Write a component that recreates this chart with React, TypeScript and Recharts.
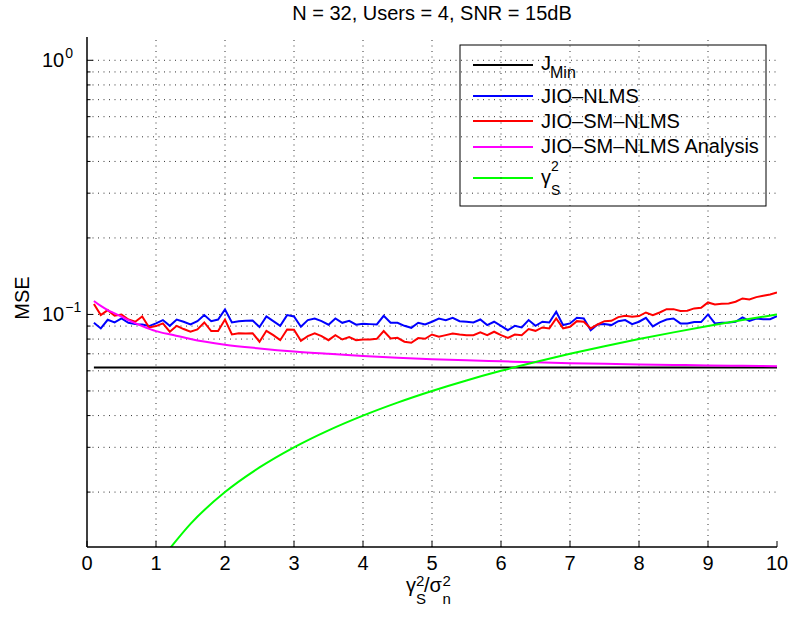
import React from 'react';
import { LineChart, Line, XAxis, YAxis, ReferenceLine, Customized } from 'recharts';

const X_VALUES = [
  0.1, 0.2, 0.3, 0.4, 0.5, 0.6, 0.7, 0.8, 0.9, 1.0,
  1.1, 1.2, 1.3, 1.4, 1.5, 1.6, 1.7, 1.8, 1.9, 2.0,
  2.1, 2.2, 2.3, 2.4, 2.5, 2.6, 2.7, 2.8, 2.9, 3.0,
  3.1, 3.2, 3.3, 3.4, 3.5, 3.6, 3.7, 3.8, 3.9, 4.0,
  4.1, 4.2, 4.3, 4.4, 4.5, 4.6, 4.7, 4.8, 4.9, 5.0,
  5.1, 5.2, 5.3, 5.4, 5.5, 5.6, 5.7, 5.8, 5.9, 6.0,
  6.1, 6.2, 6.3, 6.4, 6.5, 6.6, 6.7, 6.8, 6.9, 7.0,
  7.1, 7.2, 7.3, 7.4, 7.5, 7.6, 7.7, 7.8, 7.9, 8.0,
  8.1, 8.2, 8.3, 8.4, 8.5, 8.6, 8.7, 8.8, 8.9, 9.0,
  9.1, 9.2, 9.3, 9.4, 9.5, 9.6, 9.7, 9.8, 9.9, 10.0,
];

const JIO_NLMS = [
  0.0927, 0.0881, 0.0953, 0.0930, 0.0964, 0.0927, 0.0916, 0.0913, 0.0900, 0.0922,
  0.0950, 0.0902, 0.0955, 0.0936, 0.0913, 0.0941, 0.0994, 0.0941, 0.0955, 0.1046,
  0.0930, 0.0941, 0.0944, 0.0947, 0.0892, 0.0982, 0.0941, 0.0902, 0.0994, 0.0982,
  0.0894, 0.0950, 0.0964, 0.0941, 0.0911, 0.0964, 0.0927, 0.0944, 0.0911, 0.0919,
  0.0916, 0.0913, 0.0988, 0.0927, 0.0927, 0.0902, 0.0886, 0.0927, 0.0913, 0.0936,
  0.0964, 0.0950, 0.0970, 0.0941, 0.0936, 0.0930, 0.0955, 0.0908, 0.0936, 0.0902,
  0.0867, 0.0902, 0.0889, 0.0950, 0.0902, 0.0936, 0.0930, 0.1024, 0.0908, 0.0922,
  0.0970, 0.0964, 0.0867, 0.0913, 0.0916, 0.0908, 0.0941, 0.0950, 0.0916, 0.0936,
  0.0970, 0.0897, 0.0930, 0.0955, 0.0964, 0.0922, 0.0922, 0.0933, 0.0933, 0.1000,
  0.0922, 0.0927, 0.0930, 0.0936, 0.0973, 0.0944, 0.0964, 0.0958, 0.0958, 0.0985,
];

const JIO_SM_NLMS = [
  0.1100, 0.0994, 0.1040, 0.0988, 0.1000, 0.0955, 0.0936, 0.0982, 0.0889, 0.0900,
  0.0922, 0.0855, 0.0902, 0.0876, 0.0855, 0.0873, 0.0930, 0.0860, 0.0860, 0.0955,
  0.0834, 0.0844, 0.0842, 0.0844, 0.0781, 0.0862, 0.0829, 0.0792, 0.0873, 0.0870,
  0.0788, 0.0822, 0.0842, 0.0822, 0.0792, 0.0829, 0.0797, 0.0814, 0.0792, 0.0797,
  0.0797, 0.0802, 0.0860, 0.0804, 0.0809, 0.0781, 0.0774, 0.0807, 0.0802, 0.0834,
  0.0817, 0.0829, 0.0842, 0.0834, 0.0829, 0.0829, 0.0850, 0.0829, 0.0855, 0.0829,
  0.0809, 0.0834, 0.0829, 0.0876, 0.0862, 0.0889, 0.0881, 0.0964, 0.0881, 0.0894,
  0.0941, 0.0936, 0.0881, 0.0913, 0.0941, 0.0944, 0.0976, 0.0988, 0.0979, 0.0985,
  0.1018, 0.0994, 0.1018, 0.1049, 0.1049, 0.1031, 0.1034, 0.1056, 0.1062, 0.1115,
  0.1095, 0.1102, 0.1105, 0.1122, 0.1156, 0.1146, 0.1170, 0.1184, 0.1199, 0.1221,
];

const ANALYSIS_X = [0.1, 0.2, 0.3, 0.4, 0.5, 0.6, 0.8, 1.0, 1.25, 1.5, 2.0, 2.5, 3.0, 3.5, 4.0, 4.5, 5.0, 5.5, 6.0, 6.5, 7.0, 7.5, 8.0, 8.5, 9.0, 9.5, 10.0];
const ANALYSIS_Y = [0.113, 0.108, 0.104, 0.101, 0.098, 0.095, 0.090, 0.086, 0.083, 0.080, 0.076, 0.0735, 0.0715, 0.0700, 0.0687, 0.0676, 0.0667, 0.0660, 0.0654, 0.0648, 0.0643, 0.0639, 0.0636, 0.0633, 0.0630, 0.0628, 0.0626];

const GAMMA_X = [1.2, 1.5, 2.0, 2.5, 3.0, 3.5, 4.0, 4.5, 5.0, 5.5, 6.0, 6.5, 7.0, 7.5, 8.0, 8.5, 9.0, 9.5, 10.0];
const GAMMA_Y = [0.012, 0.015, 0.020, 0.025, 0.030, 0.035, 0.040, 0.045, 0.050, 0.055, 0.060, 0.065, 0.070, 0.075, 0.080, 0.085, 0.090, 0.095, 0.100];

const JMIN_X = [0.1, 10.0];
const JMIN_Y = [0.0618, 0.0618];

const X_TICKS = [0, 1, 2, 3, 4, 5, 6, 7, 8, 9, 10];
const X_GRID = [1, 2, 3, 4, 5, 6, 7, 8, 9];
const Y_TICKS = [0.02, 0.03, 0.04, 0.05, 0.06, 0.07, 0.08, 0.09, 0.1, 0.2, 0.3, 0.4, 0.5, 0.6, 0.7, 0.8, 0.9, 1];
const Y_MAJOR = [0.1, 1];
const Y_MAJOR_EXP = ['\u22121', '0'];
const Y_DOMAIN = [0.01216, 1.235];

const TITLE = 'N = 32, Users = 4, SNR = 15dB';
const LEGEND_NAMES = ['JIO\u2013NLMS', 'JIO\u2013SM\u2013NLMS', 'JIO\u2013SM\u2013NLMS Analysis'];

const FONT = '"Liberation Sans", Arial, Helvetica, sans-serif';

const mainRows = X_VALUES.map((x, i) => ({ x, blue: JIO_NLMS[i], red: JIO_SM_NLMS[i] }));
const analysisRows = ANALYSIS_X.map((x, i) => ({ x, y: ANALYSIS_Y[i] }));
const gammaRows = GAMMA_X.map((x, i) => ({ x, y: GAMMA_Y[i] }));
const jminRows = JMIN_X.map((x, i) => ({ x, y: JMIN_Y[i] }));

const LeftTick = (props: any) => {
  const { x, y, payload } = props;
  const idx = Y_MAJOR.indexOf(payload.value);
  const major = idx >= 0;
  const len = major ? 6 : 3.5;
  return (
    <g>
      <line x1={x} x2={x + len} y1={y} y2={y} stroke="#000" strokeWidth={1} />
      {major && (
        <text x={42} y={y + 7} fontSize={20} fontFamily={FONT} fill="#000">
          10
          <tspan dx={1} dy={-9} fontSize={14}>{Y_MAJOR_EXP[idx]}</tspan>
        </text>
      )}
    </g>
  );
};

const RightTick = (props: any) => {
  const { x, y, payload } = props;
  const major = Y_MAJOR.indexOf(payload.value) >= 0;
  const len = major ? 6 : 3.5;
  return <line x1={x} x2={x - len} y1={y} y2={y} stroke="#000" strokeWidth={1} />;
};

const BottomTick = (props: any) => {
  const { x, y, payload } = props;
  return (
    <g>
      <line x1={x} x2={x} y1={y} y2={y - 6} stroke="#000" strokeWidth={1} />
      <text x={x} y={y + 23} textAnchor="middle" fontSize={20} fontFamily={FONT} fill="#000">
        {payload.value}
      </text>
    </g>
  );
};

const TopTick = (props: any) => {
  const { x, y } = props;
  return <line x1={x} x2={x} y1={y} y2={y + 6} stroke="#000" strokeWidth={1} />;
};

const Decorations = () => {
  const lx1 = 473;
  const lx2 = 533;
  const tx = 541;
  return (
    <g fontFamily={FONT} fill="#000">
      <text x={432} y={20} textAnchor="middle" fontSize={20}>{TITLE}</text>
      <text transform="translate(29,298) rotate(-90)" textAnchor="middle" fontSize={20}>MSE</text>
      <text x={406} y={592} fontSize={20}>
        γ
        <tspan dy={-6} fontSize={15}>2</tspan>
        <tspan dx={-8.3} dy={18} fontSize={15}>S</tspan>
        <tspan dx={-2} dy={-12} fontSize={20}>/σ</tspan>
        <tspan dx={0.5} dy={-6} fontSize={15}>2</tspan>
        <tspan dx={-8.3} dy={18} fontSize={15}>n</tspan>
      </text>

      <rect x={460} y={45} width={306} height={161} fill="#fff" stroke="#000" strokeWidth={1} />
      <line x1={lx1} x2={lx2} y1={65} y2={65} stroke="#000" strokeWidth={2} />
      <text x={tx} y={70} fontSize={20}>
        J<tspan dx={-1} dy={8} fontSize={16}>Min</tspan>
      </text>
      <line x1={lx1} x2={lx2} y1={96} y2={96} stroke="#0000ff" strokeWidth={2} />
      <text x={tx} y={103} fontSize={20}>{LEGEND_NAMES[0]}</text>
      <line x1={lx1} x2={lx2} y1={121} y2={121} stroke="#ff0000" strokeWidth={2} />
      <text x={tx} y={128} fontSize={20}>{LEGEND_NAMES[1]}</text>
      <line x1={lx1} x2={lx2} y1={147} y2={147} stroke="#ff00ff" strokeWidth={2} />
      <text x={tx} y={153} fontSize={20}>{LEGEND_NAMES[2]}</text>
      <line x1={lx1} x2={lx2} y1={178} y2={178} stroke="#00ff00" strokeWidth={2} />
      <text x={tx} y={184} fontSize={20}>
        γ
        <tspan dy={-13} fontSize={14}>2</tspan>
        <tspan dx={-7.8} dy={24} fontSize={14}>S</tspan>
      </text>
    </g>
  );
};

export default function App() {
  return (
    <div style={{ position: 'absolute', left: 0, top: 0, background: '#fff' }}>
      <LineChart
        width={790}
        height={617}
        data={mainRows}
        margin={{ top: 37, right: 13, bottom: 10, left: 0 }}
      >
        <XAxis
          dataKey="x"
          type="number"
          domain={[0, 10]}
          ticks={X_TICKS}
          interval={0}
          allowDataOverflow
          height={60}
          tickLine={false}
          tickSize={0}
          tickMargin={0}
          tick={<BottomTick />}
          axisLine={{ stroke: '#000', strokeWidth: 1.5 }}
        />
        <XAxis
          xAxisId="top"
          orientation="top"
          type="number"
          domain={[0, 10]}
          ticks={X_TICKS}
          interval={0}
          height={0}
          tickLine={false}
          tickSize={0}
          tickMargin={0}
          tick={<TopTick />}
          axisLine={{ stroke: '#000', strokeWidth: 1.5 }}
        />
        <YAxis
          type="number"
          scale="log"
          domain={Y_DOMAIN}
          allowDataOverflow
          ticks={Y_TICKS}
          interval={0}
          width={87}
          tickLine={false}
          tickSize={0}
          tickMargin={0}
          tick={<LeftTick />}
          axisLine={{ stroke: '#000', strokeWidth: 1.5 }}
        />
        <YAxis
          yAxisId="right"
          orientation="right"
          type="number"
          scale="log"
          domain={Y_DOMAIN}
          allowDataOverflow
          ticks={Y_TICKS}
          interval={0}
          width={0}
          tickLine={false}
          tickSize={0}
          tickMargin={0}
          tick={<RightTick />}
          axisLine={{ stroke: '#000', strokeWidth: 1.5 }}
        />
        {X_GRID.map((v) => (
          <ReferenceLine key={'vx' + v} x={v} stroke="#333" strokeWidth={1} strokeDasharray="1 4.5" />
        ))}
        {Y_TICKS.map((v) => (
          <ReferenceLine key={'hy' + v} y={v} stroke="#333" strokeWidth={1} strokeDasharray="1 4.5" />
        ))}
        <Line data={jminRows} dataKey="y" type="linear" stroke="#000000" strokeWidth={2} dot={false} isAnimationActive={false} />
        <Line dataKey="blue" type="linear" stroke="#0000ff" strokeWidth={2} dot={false} isAnimationActive={false} />
        <Line dataKey="red" type="linear" stroke="#ff0000" strokeWidth={2} dot={false} isAnimationActive={false} />
        <Line data={analysisRows} dataKey="y" type="monotone" stroke="#ff00ff" strokeWidth={2} dot={false} isAnimationActive={false} />
        <Line data={gammaRows} dataKey="y" type="monotone" stroke="#00ff00" strokeWidth={2} dot={false} isAnimationActive={false} />
        <Customized component={Decorations} />
      </LineChart>
    </div>
  );
}
